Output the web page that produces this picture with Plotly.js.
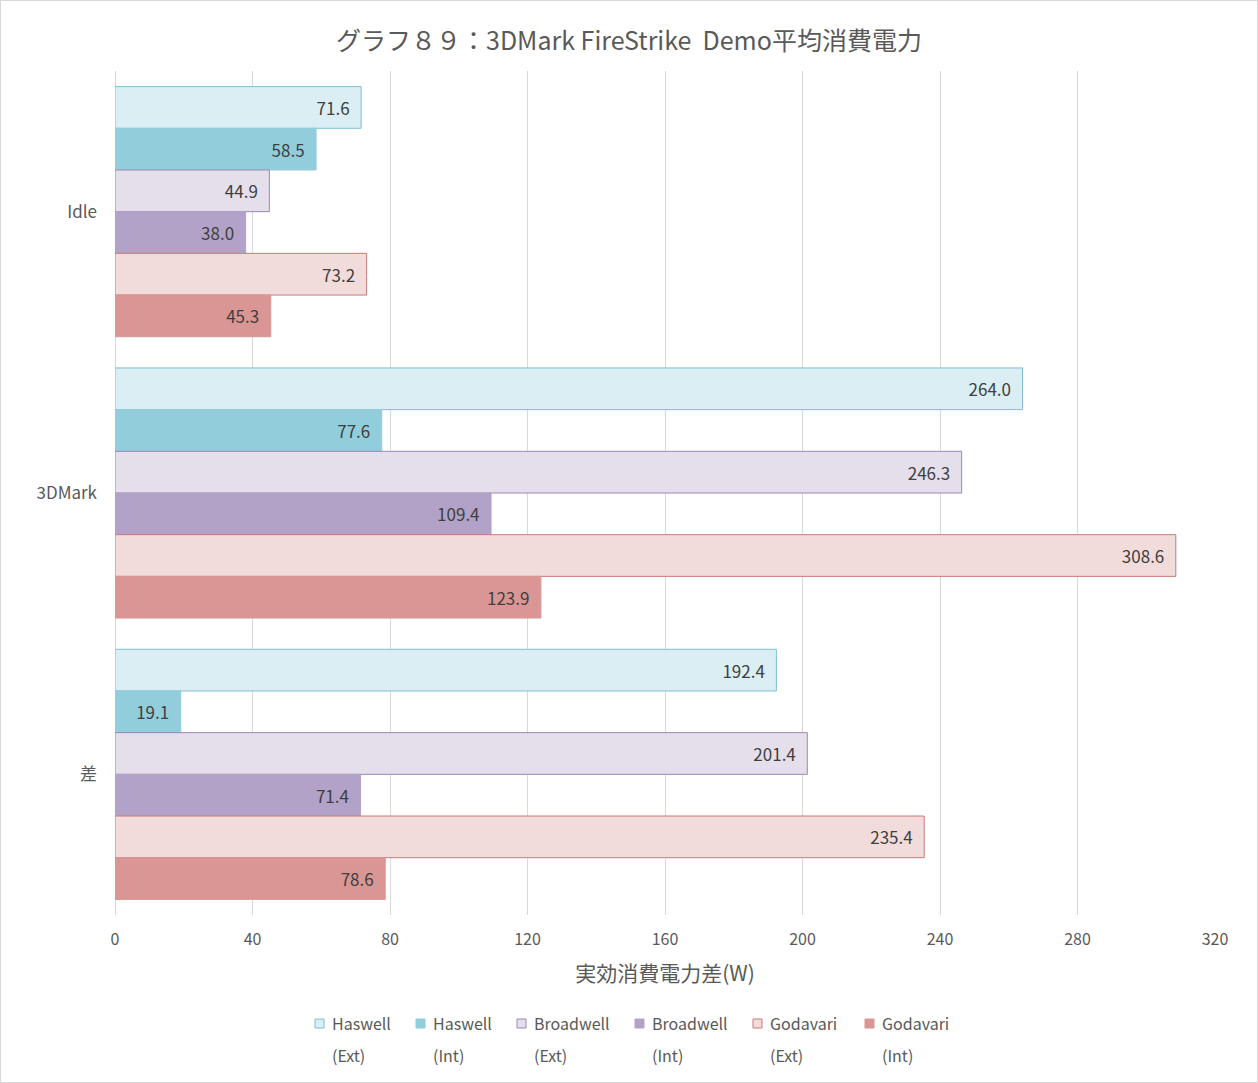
<!DOCTYPE html>
<html><head><meta charset="utf-8">
<script src="https://cdn.plot.ly/plotly-3.0.1.min.js"></script>
<style>html,body{margin:0;padding:0;background:#fff}#c{width:1256px;height:1081px;border:1px solid #d9d9d9}</style>
</head><body><div id="c"></div>
<script>
const categories = ['Idle', '3DMark', '差'];
const seriesNames = ['Haswell', 'Haswell', 'Broadwell', 'Broadwell', 'Godavari', 'Godavari'];
const seriesKinds = ['(Ext)', '(Int)', '(Ext)', '(Int)', '(Ext)', '(Int)'];
const haswellExt = [71.6, 264.0, 192.4];
const haswellInt = [58.5, 77.6, 19.1];
const broadwellExt = [44.9, 246.3, 201.4];
const broadwellInt = [38.0, 109.4, 71.4];
const godavariExt = [73.2, 308.6, 235.4];
const godavariInt = [45.3, 123.9, 78.6];
const xTicks = [0, 40, 80, 120, 160, 200, 240, 280, 320];

const seriesValues = [haswellExt, haswellInt, broadwellExt, broadwellInt, godavariExt, godavariInt];
const fills = ['#DAEEF3', '#92CDDC', '#E5DFEC', '#B2A2C7', '#F2DCDB', '#D99694'];
const lines = ['#7DC0D2', '#92CDDC', '#9A86B8', '#B2A2C7', '#C77B78', '#D99694'];
const FONT = '"Noto Sans CJK JP", "Noto Sans", sans-serif';

const W = 1256, H = 1081, ML = 114, MR = 42, MT = 70, MB = 167;
const PW = W - ML - MR, PH = H - MT - MB;
const px2x = p => (p - 1 - ML) / PW;          // image pixel -> paper x
const py2y = p => (H - MB - (p - 1)) / PH;    // image pixel -> paper y

const data = seriesValues.map((v, i) => ({
  type: 'bar', orientation: 'h', name: seriesNames[i] + ' ' + seriesKinds[i],
  y: categories, x: v,
  marker: {color: fills[i], line: {color: lines[i], width: 1}},
  text: v.map(d => d.toFixed(1) + '\u2002'), textposition: 'inside', insidetextanchor: 'end',
  textfont: {family: FONT, size: 17, color: '#404040'},
  constraintext: 'none', hoverinfo: 'x', showlegend: false
}));

// manual two-row legend (spacing as in the reference)
const legendLeft = [315, 416, 517, 635, 753, 865];
const shapes = [], annotations = [];
legendLeft.forEach((lx, i) => {
  shapes.push({type: 'rect', xref: 'paper', yref: 'paper',
    x0: px2x(lx), x1: px2x(lx + 9), y0: py2y(1028), y1: py2y(1019),
    fillcolor: fills[i], line: {color: lines[i], width: 1}});
  annotations.push({xref: 'paper', yref: 'paper', x: px2x(lx + 15), y: py2y(1023), xanchor: 'left', yanchor: 'middle',
    text: seriesNames[i], showarrow: false, font: {size: 16, color: '#595959'}});
  annotations.push({xref: 'paper', yref: 'paper', x: px2x(lx + 15), y: py2y(1055), xanchor: 'left', yanchor: 'middle',
    text: seriesKinds[i], showarrow: false, font: {size: 16, color: '#595959'}});
});

const layout = {
  width: W, height: H,
  margin: {l: ML, r: MR, t: MT, b: MB},
  paper_bgcolor: '#fff', plot_bgcolor: '#fff',
  font: {family: FONT, color: '#595959', size: 16},
  title: {text: 'グラフ８９：3DMark FireStrike  Demo平均消費電力', font: {family: FONT, size: 25, color: '#595959'}, x: 0.5, xanchor: 'center', y: 0.963, yanchor: 'middle'},
  barmode: 'group', bargap: 0.111, bargroupgap: 0,
  xaxis: {range: [0, 320], tickvals: xTicks, ticktext: xTicks.map(String), showgrid: true, gridcolor: '#d9d9d9', gridwidth: 1, zeroline: true, zerolinecolor: '#d9d9d9', showline: false, ticks: '', ticklabelstandoff: 13, automargin: false, tickfont: {size: 16, color: '#595959'},
    title: {text: '実効消費電力差(W)', font: {size: 21, color: '#595959'}, standoff: 17}},
  yaxis: {autorange: 'reversed', showgrid: false, showline: false, ticks: '', ticklabelstandoff: 17, automargin: false, tickfont: {size: 17, color: '#595959'}},
  showlegend: false,
  shapes: shapes, annotations: annotations
};
Plotly.newPlot('c', data, layout, {displayModeBar: false, staticPlot: true});
</script></body></html>
